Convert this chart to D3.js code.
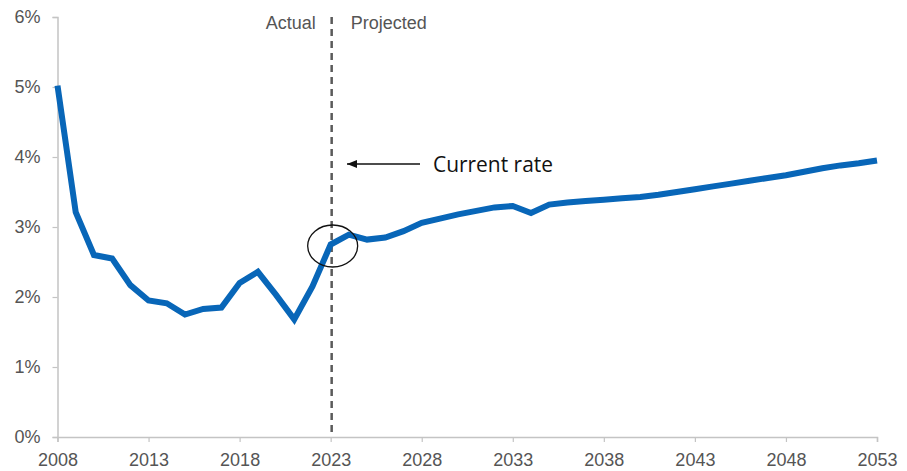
<!DOCTYPE html>
<html>
<head>
<meta charset="utf-8">
<script src="https://cdn.jsdelivr.net/npm/d3@7"></script>
<style>
  html, body { margin: 0; padding: 0; background: #fff; }
  svg { display: block; }
</style>
</head>
<body>
<svg id="chart" width="907" height="471"></svg>
<script>
const years = d3.range(2008, 2054);
const rates = [
  5.02, 3.21, 2.60, 2.55, 2.17, 1.95, 1.91, 1.75, 1.83, 1.85,
  2.20, 2.36, 2.03, 1.68, 2.15, 2.75, 2.89, 2.82, 2.85, 2.94,
  3.06, 3.12, 3.18, 3.23, 3.28, 3.30, 3.20, 3.32, 3.35, 3.37,
  3.39, 3.41, 3.43, 3.46, 3.50, 3.54, 3.58, 3.62, 3.66, 3.70,
  3.74, 3.79, 3.84, 3.88, 3.91, 3.95
];
const xTicks = [2008, 2013, 2018, 2023, 2028, 2033, 2038, 2043, 2048, 2053];
const yTicks = [0, 1, 2, 3, 4, 5, 6];
const dividerYear = 2023;
const currentYear = 2023;
const regionLabels = ["Actual", "Projected"];
const annotationText = "Current rate";

const svg = d3.select("#chart");

const x = d3.scaleLinear().domain([2008, 2053]).range([57.5, 877]);
const y = d3.scaleLinear().domain([0, 6]).range([437, 17]);

const tickColor = "#555";
const axisColor = "#c4c4c4";
const font = "'Liberation Sans', Arial, sans-serif";

// x axis
const gx = svg.append("g")
  .attr("transform", `translate(0,${y(0)})`)
  .call(d3.axisBottom(x).tickValues(xTicks).tickFormat(d3.format("d")).tickSize(5).tickPadding(11));
gx.select(".domain").attr("stroke", axisColor).attr("stroke-width", 1.5);
gx.selectAll(".tick line").attr("stroke", axisColor).attr("stroke-width", 1.2);
gx.selectAll("text").attr("fill", tickColor).attr("font-size", 18).attr("font-family", font);

// y axis
const gy = svg.append("g")
  .attr("transform", `translate(${x(2008)},0)`)
  .call(d3.axisLeft(y).tickValues(yTicks).tickFormat(d => d + "%").tickSize(5).tickPadding(12));
gy.select(".domain").attr("stroke", axisColor).attr("stroke-width", 1.5);
gy.selectAll(".tick line").attr("stroke", axisColor).attr("stroke-width", 1.2);
gy.selectAll("text").attr("fill", tickColor).attr("font-size", 18).attr("font-family", font);

// divider dashed line
const xd = x(dividerYear) + 1;
svg.append("line")
  .attr("x1", xd).attr("x2", xd)
  .attr("y1", y(6)).attr("y2", y(0))
  .attr("stroke", "#5a5a5a").attr("stroke-width", 2.5)
  .attr("stroke-dasharray", "7,5");

// region labels
svg.append("text").attr("x", xd - 16).attr("y", 29).attr("text-anchor", "end")
  .attr("fill", tickColor).attr("font-size", 18).attr("font-family", font).text(regionLabels[0]);
svg.append("text").attr("x", xd + 19).attr("y", 29).attr("text-anchor", "start")
  .attr("fill", tickColor).attr("font-size", 18).attr("font-family", font).text(regionLabels[1]);

// data line
const line = d3.line().x((d, i) => x(years[i])).y(d => y(d));
svg.append("path")
  .datum(rates)
  .attr("fill", "none")
  .attr("stroke", "#0866b8")
  .attr("stroke-width", 6)
  .attr("stroke-linejoin", "miter")
  .attr("d", line);

// circle around current rate
const ci = years.indexOf(currentYear);
svg.append("ellipse")
  .attr("cx", x(currentYear) + 2).attr("cy", y(rates[ci]) + 1.5)
  .attr("rx", 25).attr("ry", 21)
  .attr("fill", "none").attr("stroke", "#111").attr("stroke-width", 1.3);

// arrow
svg.append("defs").append("marker")
  .attr("id", "arrowhead").attr("viewBox", "0 0 10 10")
  .attr("refX", 10).attr("refY", 5)
  .attr("markerWidth", 11).attr("markerHeight", 10)
  .attr("markerUnits", "userSpaceOnUse")
  .attr("orient", "auto-start-reverse")
  .append("path").attr("d", "M0,1 L10,5 L0,9 Z").attr("fill", "#111");
svg.append("line")
  .attr("x1", 420).attr("x2", 347).attr("y1", 164).attr("y2", 164)
  .attr("stroke", "#111").attr("stroke-width", 1.4)
  .attr("marker-end", "url(#arrowhead)");

svg.append("text").attr("x", 433).attr("y", 171.5)
  .attr("fill", "#111").attr("font-size", 21).attr("font-family", "'Open Sans', Calibri, sans-serif")
  .attr("textLength", 120).attr("lengthAdjust", "spacingAndGlyphs")
  .text(annotationText);
</script>
</body>
</html>
